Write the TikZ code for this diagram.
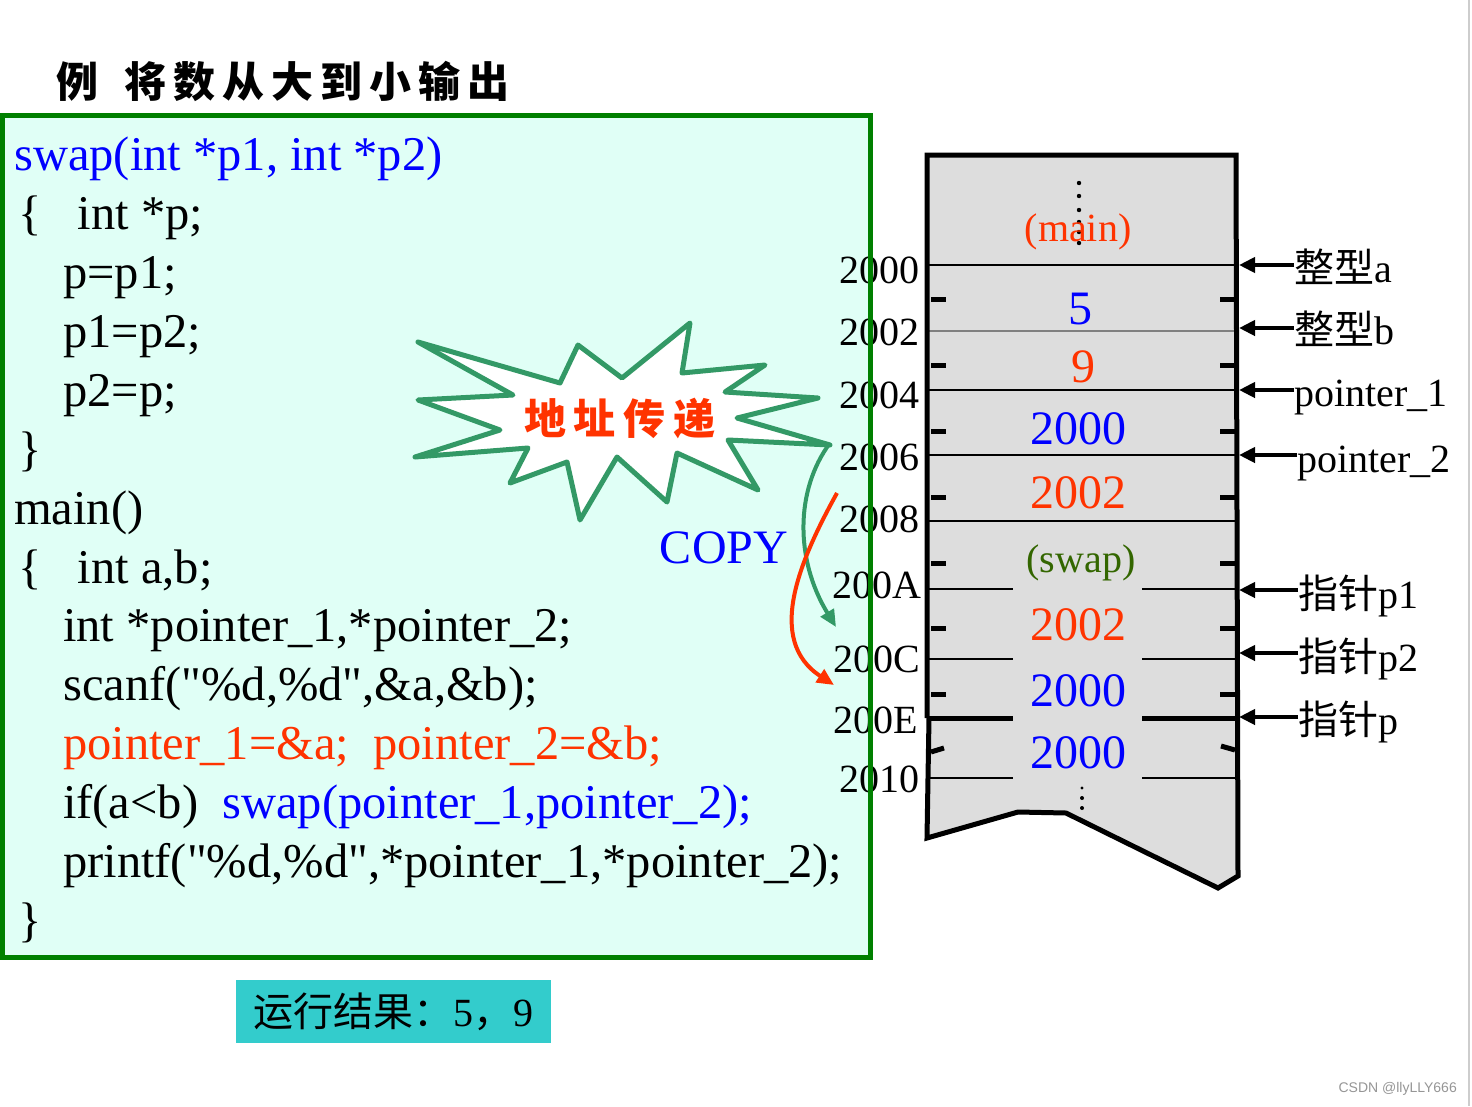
\documentclass[tikz,border=0pt]{standalone}
\usepackage{fontspec}
\setmainfont{Liberation Serif}
\newfontfamily\codefont{Liberation Serif}
\newfontfamily\cjk{Noto Sans CJK SC}
\newfontfamily\wmfont{Liberation Sans}
\usetikzlibrary{arrows.meta}
\definecolor{codebg}{RGB}{224,255,246}
\definecolor{boxgreen}{RGB}{0,128,0}
\definecolor{cblue}{RGB}{0,0,255}
\definecolor{cred}{RGB}{255,51,0}
\definecolor{cswap}{RGB}{51,102,0}
\definecolor{stargreen}{RGB}{51,153,102}
\definecolor{memgray}{RGB}{221,221,221}
\definecolor{resbg}{RGB}{51,204,204}
\definecolor{wmgray}{RGB}{150,150,150}
\definecolor{edgegray}{RGB}{205,205,205}
\newcommand{\tk}{\kern 7pt}
\tikzset{
  codeline/.style={anchor=base west, inner sep=0pt, font=\fontsize{48.5}{58}\selectfont\codefont},
  addrlab/.style={anchor=east, inner sep=0pt, font=\fontsize{40}{48}\selectfont},
  cellval/.style={inner sep=0pt, font=\fontsize{48}{56}\selectfont},
  celltag/.style={inner sep=0pt, font=\fontsize{40}{48}\selectfont},
  rlab/.style={anchor=base west, inner sep=0pt, font=\fontsize{40}{48}\selectfont},
  memline/.style={line width=1.6pt},
  memtick/.style={line width=5pt},
  memedge/.style={line width=5pt, line join=miter},
  ptr/.style={line width=4pt, -{Triangle[length=16pt,width=15pt]}},
  curvearrow/.style={line width=4pt, -{Triangle[length=17pt,width=15pt]}},
}
\begin{document}
\begin{tikzpicture}[x=1pt,y=-1pt]
\useasboundingbox (0,0) rectangle (1472,1106);
\fill[white] (0,0) rectangle (1472,1106);
\draw[edgegray, line width=2pt] (1469,0) -- (1469,1106);

% title
\node[anchor=west, inner sep=0pt, font=\fontsize{42}{48}\selectfont\cjk\bfseries] (title) at (56,81)
  {例\kern 26pt 将\tk 数\tk 从\tk 大\tk 到\tk 小\tk 输\tk 出};

% code box
\fill[codebg] (2.5,115.5) rectangle (870.5,957.5);
\node[codeline, text=cblue] (c1) at (14,170) {swap(int *p1, int *p2)};
\node[codeline] (c2) at (18,229) {\{~~~int *p;};
\node[codeline] (c3) at (63,288) {p=p1;};
\node[codeline] (c4) at (63,347) {p1=p2;};
\node[codeline] (c5) at (63,406) {p2=p;};
\node[codeline] (c6) at (18,465) {\}};
\node[codeline] (c7) at (14,524) {main()};
\node[codeline] (c8) at (18,583) {\{~~~int a,b;};
\node[codeline] (c9) at (63,641) {int *pointer\_1,*pointer\_2;};
\node[codeline] (c10) at (63,700) {scanf("\%d,\%d",\&a,\&b);};
\node[codeline, text=cred] (c11) at (63,759) {pointer\_1=\&a;~~pointer\_2=\&b;};
\node[codeline] (c12) at (63,818) {if(a<b)~~\textcolor{cblue}{swap(pointer\_1,pointer\_2);}};
\node[codeline] (c13) at (63,877) {printf("\%d,\%d",*pointer\_1,*pointer\_2);};
\node[codeline] (c14) at (18,936) {\}};

% address labels
\node[addrlab] (a0) at (920,270) {2000};
\node[addrlab] (a2) at (920,332) {2002};
\node[addrlab] (a4) at (920,395) {2004};
\node[addrlab] (a6) at (920,457) {2006};
\node[addrlab] (a8) at (920,519) {2008};
\node[addrlab] (aA) at (922,585) {200A};
\node[addrlab] (aC) at (920,659) {200C};
\node[addrlab] (aE) at (918,720) {200E};
\node[addrlab] (a10) at (920,779) {2010};

\draw[boxgreen, line width=5pt] (2.5,115.5) rectangle (870.5,957.5);

% starburst
\draw[stargreen, fill=white, line width=5pt, line join=round]
  (418,342) -- (560,383) -- (578,345) -- (622,378) -- (690,323) -- (682,373)
  -- (765,365) -- (725,392) -- (818,398) -- (737,418) -- (830,445) -- (728,440)
  -- (758,490) -- (677,453) -- (667,502) -- (617,457) -- (580,520) -- (567,462)
  -- (510,483) -- (528,448) -- (415,457) -- (500,430) -- (418,400) -- (513,395) -- cycle;
\node[inner sep=0pt, text=cred, font=\fontsize{42}{48}\selectfont\cjk\bfseries] (dzcd) at (620,418)
  {地\kern 8pt 址\kern 8pt 传\kern 8pt 递};
\coordinate (startip) at (830,443);
\coordinate (gtip) at (836,627);
\coordinate (rstart) at (837,493);
\coordinate (rtip) at (834,685);
\node[inner sep=0pt, text=cblue, font=\fontsize{48}{56}\selectfont] (copy) at (724,548) {COPY};
\draw[curvearrow, stargreen] (startip) .. controls (795,490) and (795,560) .. (gtip);
\draw[curvearrow, cred] (rstart) .. controls (800,560) and (765,640) .. (rtip);

% memory block
\fill[memgray] (927,155) -- (1236,155) -- (1237,877) -- (1218,888) -- (1066,813)
  -- (1018,812) -- (927,838) -- (929,718) -- cycle;
\draw[memline] (929,265) -- (1236,265);
\draw[memline, gray] (929,331) -- (1236,331);
\draw[memline] (929,390) -- (1236,390);
\draw[memline] (929,455) -- (1236,455);
\draw[memline] (929,521) -- (1236,521);
\draw[memline] (929,589) -- (1013,589) (1142,589) -- (1236,589);
\draw[memline] (929,659) -- (1013,659) (1142,659) -- (1236,659);
\draw[memline] (929,778) -- (1013,778) (1142,778) -- (1236,778);
\draw[line width=5pt] (927,718) -- (1013,718) (1142,718) -- (1236,718);
\foreach \yy in {299,365,431,497,563,628,694}{
  \draw[memtick] (931,\yy) -- (946,\yy);
  \draw[memtick] (1220,\yy) -- (1235,\yy);
}
\draw[memtick] (931,752) -- (944,748);
\draw[memtick] (1221,746) -- (1235,750);
\draw[memedge] (929,718) -- (927,838) -- (1018,812) -- (1066,813) -- (1218,888)
  -- (1238,876) -- (1236,155) -- (927,155) -- (927,718);
\foreach \yy in {183,196,210,222,232,243}{\fill (1079,\yy) circle (2.2pt);}
\fill (1082,788) circle (1.6pt);
\fill (1082,798) circle (2pt);
\fill (1082,808) circle (2pt);

\node[celltag, text=cred] (vmain) at (1078,232) {(main)};
\node[cellval, text=cblue] (v1) at (1080,309) {5};
\node[cellval, text=cred] (v2) at (1083,367) {9};
\node[cellval, text=cblue] (v3) at (1078,429) {2000};
\node[cellval, text=cred] (v4) at (1078,493) {2002};
\node[celltag, text=cswap] (vswap) at (1081,563) {(swap)};
\node[cellval, text=cred] (v5) at (1078,625) {2002};
\node[cellval, text=cblue] (v6) at (1078,691) {2000};
\node[cellval, text=cblue] (v7) at (1078,753) {2000};

% pointer labels on the right
\coordinate (m1) at (1239,265);
\coordinate (m2) at (1239,328);
\coordinate (m3) at (1239,390);
\coordinate (m4) at (1239,455);
\coordinate (m5) at (1239,590);
\coordinate (m6) at (1239,653);
\coordinate (m7) at (1239,717);
\node[rlab] (la) at (1294,282) {{\cjk 整型}a};
\node[rlab] (lb) at (1294,344) {{\cjk 整型}b};
\node[rlab] (lp1) at (1294,406) {pointer\_1};
\node[rlab] (lp2) at (1297,472) {pointer\_2};
\node[rlab] (lq1) at (1298,608) {{\cjk 指针}p1};
\node[rlab] (lq2) at (1298,671) {{\cjk 指针}p2};
\node[rlab] (lq) at (1298,734) {{\cjk 指针}p};
\draw[ptr] (la.west |- m1) -- (m1);
\draw[ptr] (lb.west |- m2) -- (m2);
\draw[ptr] (lp1.west |- m3) -- (m3);
\draw[ptr] (lp2.west |- m4) -- (m4);
\draw[ptr] (lq1.west |- m5) -- (m5);
\draw[ptr] (lq2.west |- m6) -- (m6);
\draw[ptr] (lq.west |- m7) -- (m7);

% result
\node[fill=resbg, minimum width=315pt, minimum height=63pt, inner sep=0pt,
  font=\fontsize{40}{48}\selectfont] (result) at (393.5,1011.5)
  {{\cjk 运行结果：}5{\cjk ，}9};

% watermark
\node[anchor=east, inner sep=0pt, text=wmgray, font=\fontsize{14}{16}\selectfont\wmfont] (wm) at (1457,1089)
  {CSDN @llyLLY666};
\end{tikzpicture}
\end{document}
